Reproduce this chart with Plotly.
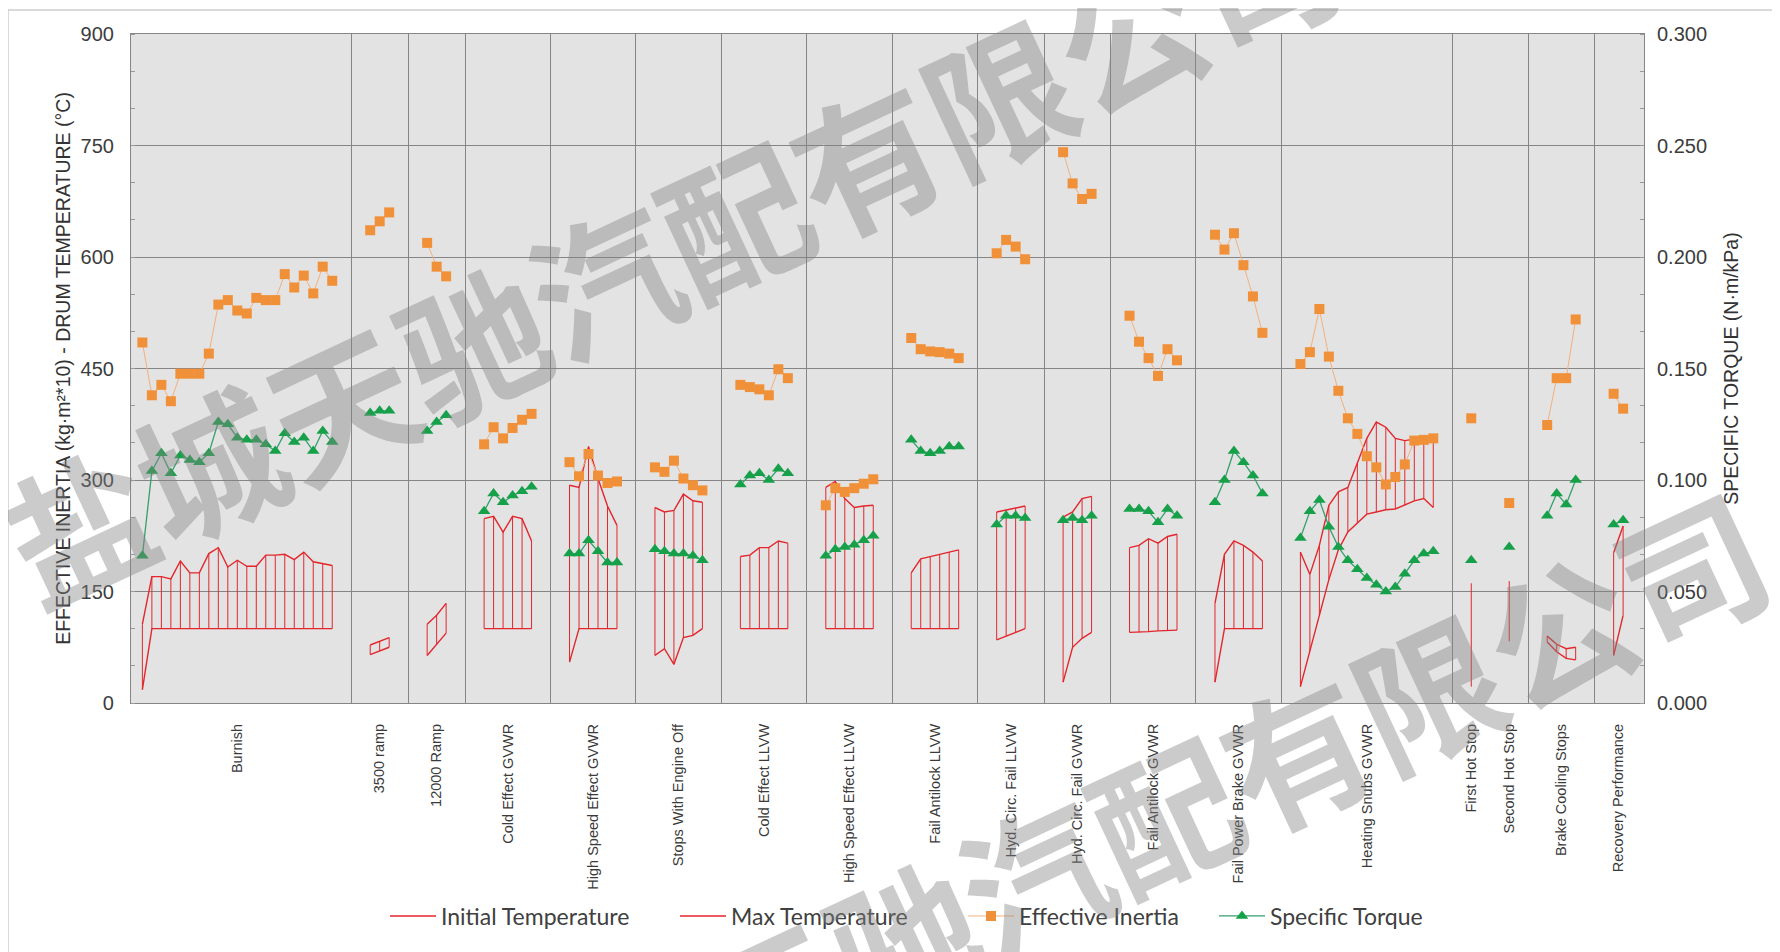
import plotly.graph_objects as go

# ---------------- data ----------------
GROUPS = ["Burnish", "3500 ramp", "12000 Ramp", "Cold Effect GVWR", "High Speed Effect GVWR",
          "Stops With Engine Off", "Cold Effect LLVW", "High Speed Effect LLVW", "Fail Antilock LLVW",
          "Hyd. Circ. Fail LLVW", "Hyd. Circ. Fail GVWR", "Fail Antilock GVWR", "Fail Power Brake GVWR",
          "Heating Snubs GVWR", "First Hot Stop", "Second Hot Stop", "Brake Cooling Stops",
          "Recovery Performance"]

# whether a vertical divider follows the group
SEPARATOR_AFTER = [True, True, True, True, True, True, True, True, True, True, True, True, True,
                   True, False, True, True, False]

# Effective inertia (kg·m²*10), left axis
INERTIA = [
    [485, 414, 428, 406, 443, 443, 443, 470, 536, 542, 528, 524, 545, 542, 542, 577, 559, 575, 551, 587, 568],
    [636, 648, 660],
    [619, 587, 574],
    [348, 371, 356, 370, 381, 389],
    [324, 305, 335, 306, 296, 298],
    [317, 311, 326, 302, 293, 286],
    [428, 425, 422, 414, 449, 437],
    [266, 289, 284, 289, 295, 301],
    [491, 476, 473, 472, 470, 464],
    [605, 623, 614, 597],
    [741, 699, 678, 685],
    [521, 486, 464, 440, 476, 461],
    [630, 610, 632, 589, 547, 498],
    [456, 472, 530, 466, 420, 383, 362, 332, 317, 294, 304, 321, 353, 354, 356],
    [383],
    [269],
    [374, 437, 437, 516],
    [416, 396],
]

# Specific torque (N·m/kPa), right axis
TORQUE = [
    [0.066, 0.104, 0.112, 0.103, 0.111, 0.109, 0.108, 0.112, 0.126, 0.125, 0.119, 0.118, 0.118, 0.116,
     0.113, 0.121, 0.117, 0.119, 0.113, 0.122, 0.117],
    [0.130, 0.131, 0.131],
    [0.122, 0.126, 0.129],
    [0.086, 0.094, 0.090, 0.093, 0.095, 0.097],
    [0.067, 0.067, 0.073, 0.068, 0.063, 0.063],
    [0.069, 0.068, 0.067, 0.067, 0.066, 0.064],
    [0.098, 0.102, 0.103, 0.100, 0.105, 0.103],
    [0.066, 0.069, 0.070, 0.071, 0.073, 0.075],
    [0.118, 0.113, 0.112, 0.113, 0.115, 0.115],
    [0.080, 0.084, 0.084, 0.083],
    [0.082, 0.083, 0.082, 0.084],
    [0.087, 0.087, 0.086, 0.081, 0.087, 0.084],
    [0.090, 0.100, 0.113, 0.108, 0.102, 0.094],
    [0.074, 0.086, 0.091, 0.079, 0.070, 0.064, 0.060, 0.056, 0.053, 0.050, 0.052, 0.058, 0.064, 0.067, 0.068],
    [0.064],
    [0.070],
    [0.084, 0.094, 0.089, 0.100],
    [0.080, 0.082],
]

# Initial drum temperature (°C)
T_INIT = [
    [18, 100, 100, 100, 100, 100, 100, 100, 100, 100, 100, 100, 100, 100, 100, 100, 100, 100, 100, 100, 100],
    [65, 70, 75],
    [64, 79, 94],
    [100, 100, 100, 100, 100, 100],
    [55, 100, 100, 100, 100, 100],
    [64, 73, 52, 88, 91, 100],
    [100, 100, 100, 100, 100, 100],
    [100, 100, 100, 100, 100, 100],
    [100, 100, 100, 100, 100, 100],
    [85, 90, 95, 100],
    [28, 75, 87, 95],
    [95, 95, 96, 97, 98, 98],
    [28, 100, 100, 100, 100, 100],
    [22, 70, 118, 166, 206, 230, 242, 254, 257, 260, 261, 266, 272, 275, 263],
    [22],
    [83],
    [82, 69, 60, 58],
    [64, 118],
]

# Max drum temperature (°C)
T_MAX = [
    [106, 170, 170, 167, 191, 175, 175, 201, 209, 183, 192, 184, 184, 199, 199, 200, 193, 203, 190, 187, 185],
    [78, 83, 88],
    [106, 118, 134],
    [248, 251, 230, 251, 248, 218],
    [293, 290, 345, 302, 265, 239],
    [263, 257, 259, 281, 272, 270],
    [197, 199, 209, 209, 218, 215],
    [290, 298, 275, 263, 265, 266],
    [175, 194, 197, 200, 203, 206],
    [257, 260, 262, 265],
    [250, 257, 275, 278],
    [209, 212, 221, 215, 224, 227],
    [134, 200, 218, 212, 203, 191],
    [203, 173, 212, 266, 284, 290, 323, 356, 378, 371, 356, 353, 355, 355, 359],
    [161],
    [164],
    [90, 79, 73, 75],
    [202, 238],
]

LEFT_TICKS = [0, 150, 300, 450, 600, 750, 900]
RIGHT_TICKS = [0.0, 0.05, 0.10, 0.15, 0.20, 0.25, 0.30]

WATERMARK = "盐城天驰汽配有限公司"

# ---------------- layout of stops along the x axis ----------------
GAP = 4  # empty slots between groups (divider in the middle)
x_groups, centers, separators = [], [], []
cursor = 0
for i, vals in enumerate(INERTIA):
    xs = list(range(cursor, cursor + len(vals)))
    x_groups.append(xs)
    centers.append((xs[0] + xs[-1]) / 2)
    if SEPARATOR_AFTER[i]:
        separators.append(xs[-1] + GAP / 2)
    cursor = xs[-1] + GAP


def flatten(groups):
    X, Y = [], []
    for xs, vs in zip(x_groups, groups):
        X += xs + [None]
        Y += list(vs) + [None]
    return X, Y


hx, hy = [], []
for xs, lo, hi in zip(x_groups, T_INIT, T_MAX):
    for x, a, b in zip(xs, lo, hi):
        hx += [x, x, None]
        hy += [a, b, None]

RED = "#E3262C"
ORANGE = "#F0913A"
GREEN = "#17A04A"

# the page body adds an 8px offset; margins are set so the plot lands at page px 131..1644 x 34..703
OFF = 8
W, H = 1780, 952
PL, PR, PT, PB = 131, 1644, 34, 703
L, T = PL - OFF, PT - OFF
R, B = W - (PR - OFF), H - (PB - OFF)
pw, ph = PR - PL, PB - PT

LEG_Y = (H - 908) / H
LEG_X = [377 / W, 667 / W, 955 / W, 1206 / W]

fig = go.Figure()
fig.add_trace(go.Scatter(x=hx, y=hy, mode="lines", line=dict(color=RED, width=1),
                         showlegend=False, hoverinfo="skip"))
xi, yi = flatten(T_INIT)
fig.add_trace(go.Scatter(x=xi, y=yi, mode="lines", name="Initial Temperature", legend="legend",
                         line=dict(color=RED, width=1.4)))
xm, ym = flatten(T_MAX)
fig.add_trace(go.Scatter(x=xm, y=ym, mode="lines", name="Max Temperature", legend="legend2",
                         line=dict(color=RED, width=1.4)))
xe, ye = flatten(INERTIA)
fig.add_trace(go.Scatter(x=xe, y=ye, mode="lines+markers", name="Effective Inertia", legend="legend3",
                         line=dict(color="#F4B07C", width=1),
                         marker=dict(symbol="square", size=10, color=ORANGE)))
xt, yt = flatten(TORQUE)
fig.add_trace(go.Scatter(x=xt, y=yt, mode="lines+markers", name="Specific Torque", yaxis="y2",
                         legend="legend4",
                         line=dict(color="#35A06E", width=1.3),
                         marker=dict(symbol="triangle-up", size=11, color=GREEN)))


def px_to_paper(px, py):
    return (px - PL) / pw, (PB - py) / ph


TICKFONT = dict(family="Liberation Sans, Arial, sans-serif", size=20, color="#3c3c3c")
TITLEFONT = dict(family="Liberation Sans, Arial, sans-serif", size=19.5, color="#333")
GRID = "#858585"

# watermark
for cx, cy in [(668, 246), (1098, 841)]:
    ax, ay = px_to_paper(cx, cy)
    fig.add_annotation(x=ax, y=ay, xref="paper", yref="paper", text=WATERMARK, showarrow=False,
                       textangle=-25, xanchor="center", yanchor="middle",
                       font=dict(family="Noto Sans CJK SC", size=145, weight="bold",
                                 color="rgba(130,130,130,0.42)"))

# outer frame lines
fx0, fy1 = px_to_paper(8, 10)
fx1, fy0 = px_to_paper(1790, 1000)
fig.add_shape(type="line", xref="paper", yref="paper", x0=fx0, x1=fx1, y0=fy1, y1=fy1,
              line=dict(color="#b5b5b5", width=1))
fig.add_shape(type="line", xref="paper", yref="paper", x0=fx0, x1=fx0, y0=fy0, y1=fy1,
              line=dict(color="#b5b5b5", width=1))

legend_common = dict(orientation="h", xref="container", yref="container", y=LEG_Y,
                     xanchor="left", yanchor="middle", itemwidth=46,
                     font=dict(family="Lato, Open Sans, sans-serif", size=23, color="#404040"),
                     bgcolor="rgba(0,0,0,0)")

fig.update_layout(
    width=W, height=H,
    margin=dict(l=L, r=R, t=T, b=B, autoexpand=False),
    paper_bgcolor="white",
    plot_bgcolor="#e3e3e3",
    xaxis=dict(range=[-1.2, 158.2], tickmode="array", tickvals=centers, ticktext=GROUPS,
               tickangle=-90, ticks="", showgrid=False, zeroline=False, automargin=False,
               tickfont=dict(family="Liberation Sans, Arial, sans-serif", size=14.5, color="#3a3a3a"),
               ticklabelstandoff=14,
               showline=True, linecolor=GRID, linewidth=1.2, mirror=True,
               minor=dict(tickmode="array", tickvals=separators, showgrid=True,
                          gridcolor=GRID, gridwidth=1.3, ticks="")),
    yaxis=dict(range=[0, 900], tickvals=LEFT_TICKS, showgrid=True, gridcolor=GRID, gridwidth=1.3,
               zeroline=False, tickfont=TICKFONT, ticklabelstandoff=12, automargin=False,
               showline=True, linecolor=GRID, linewidth=1.2, mirror=True,
               minor=dict(dtick=50, ticks="inside", ticklen=4, tickcolor="#9a9a9a", showgrid=False),
               title=dict(text="EFFECTIVE INERTIA (kg·m²*10) - DRUM TEMPERATURE (°C)",
                          font=TITLEFONT, standoff=4)),
    yaxis2=dict(range=[0, 0.3], tickvals=RIGHT_TICKS, tickformat=".3f", overlaying="y", side="right",
                showgrid=False, zeroline=False, tickfont=TICKFONT, ticklabelstandoff=12, automargin=False,
                minor=dict(dtick=0.3 / 18, ticks="inside", ticklen=4, tickcolor="#9a9a9a", showgrid=False),
                title=dict(text="SPECIFIC TORQUE (N·m/kPa)", font=TITLEFONT, standoff=18)),
    legend=dict(x=LEG_X[0], **legend_common),
    legend2=dict(x=LEG_X[1], **legend_common),
    legend3=dict(x=LEG_X[2], **legend_common),
    legend4=dict(x=LEG_X[3], **legend_common),
    showlegend=True,
)

fig.write_html("out.html")
